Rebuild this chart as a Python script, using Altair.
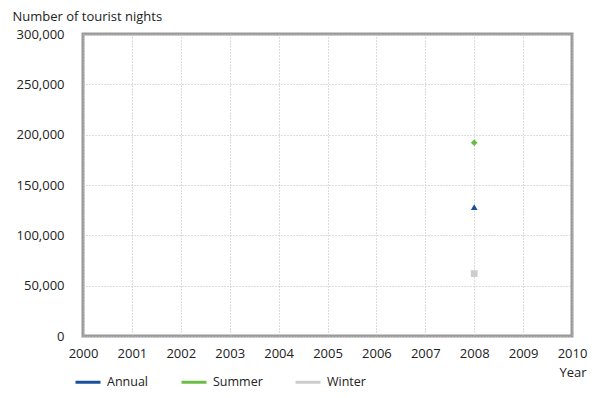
import altair as alt
import pandas as pd

years = [2008, 2008, 2008]
series = ["Annual", "Summer", "Winter"]
nights = [128000, 192000, 62000]
series_order = ["Annual", "Summer", "Winter"]
series_colors = ["#1a4f9c", "#6cbd45", "#cccccc"]
series_shapes = ["triangle-up", "diamond", "square"]
x_ticks = list(range(2000, 2011))
y_ticks = [0, 50000, 100000, 150000, 200000, 250000, 300000]

df = pd.DataFrame({"Year": years, "Series": series, "Nights": nights})

FONT = "Open Sans"

x_enc = alt.X("Year:Q",
              scale=alt.Scale(domain=[2000, 2010], nice=False, zero=False),
              axis=alt.Axis(values=x_ticks, format="d", title="Year",
                            titleAnchor="end", titleAlign="right", titleX=503, titleY=40,
                            titleBaseline="alphabetic", titleFontWeight="normal",
                            labelPadding=11, labelFlush=False, labelOverlap=False))
y_enc = alt.Y("Nights:Q",
              scale=alt.Scale(domain=[0, 300000], nice=False),
              axis=alt.Axis(values=y_ticks, format=",.0f", title="Number of tourist nights",
                            titleAngle=0, titleAlign="left", titleAnchor="start",
                            titleX=-71, titleY=-14, titleBaseline="alphabetic",
                            titleFontWeight="normal", labelPadding=19,
                            labelFlush=False, labelOverlap=False))
color_scale = alt.Scale(domain=series_order, range=series_colors)

legend_layer = alt.Chart(df).mark_line(strokeWidth=3).encode(
    x=x_enc, y=y_enc,
    color=alt.Color("Series:N", scale=color_scale,
                    legend=alt.Legend(title=None, orient="none", direction="horizontal",
                                      legendX=-9, legendY=334, symbolType="stroke",
                                      symbolSize=625, symbolStrokeWidth=3,
                                      columnPadding=26, labelOffset=5)),
)

point_layers = []
for name, shape in zip(series_order, series_shapes):
    point_layers.append(
        alt.Chart(df).transform_filter(alt.datum.Series == name)
        .mark_point(filled=True, size=45, opacity=1, shape=shape)
        .encode(x=x_enc, y=y_enc,
                color=alt.Color("Series:N", scale=color_scale, legend=None))
    )

chart = alt.layer(legend_layer, *point_layers).properties(
    width=489, height=302,
    autosize=alt.AutoSizeParams(type="none"),
    padding={"left": 75, "top": 26, "right": 16, "bottom": 54},
).configure_view(
    stroke="#999999", strokeWidth=3
).configure_axis(
    domain=False, ticks=False, grid=True, gridColor="#bbbbbb", gridDash=[1, 2],
    gridWidth=1, labelFont=FONT, titleFont=FONT, labelFontSize=13, titleFontSize=13,
    labelColor="#222222", titleColor="#222222",
).configure_legend(
    labelFont=FONT, labelFontSize=12.5, labelColor="#222222",
)

chart.save("out.html", embed_options={"renderer": "svg", "actions": False})
